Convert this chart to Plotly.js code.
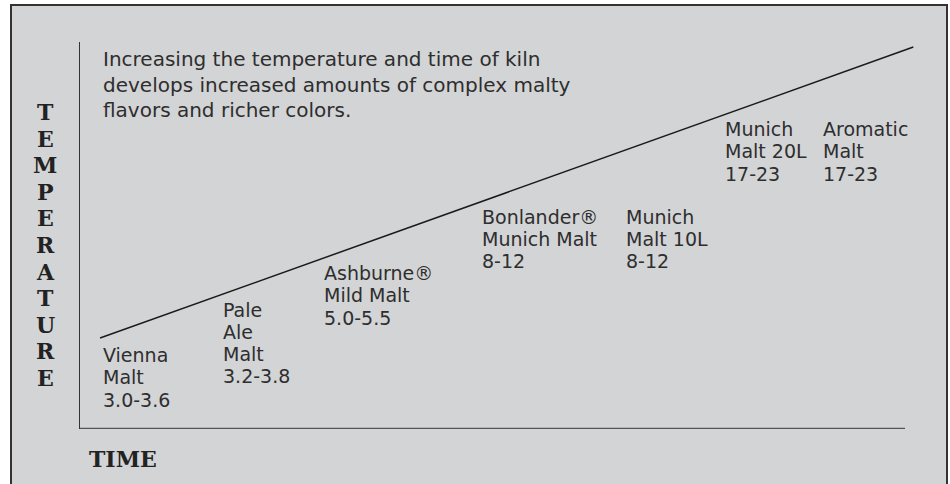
<!DOCTYPE html>
<html>
<head>
<meta charset="utf-8">
<script src="https://cdn.plot.ly/plotly-3.0.1.min.js"></script>
<style>html,body{margin:0;padding:0;background:#fff;}#chart{width:950px;height:484px;}</style>
</head>
<body>
<div id="chart"></div>
<script>
// ---- data ----
const kilnTime = [0.24, 9.98];
const kilnTemp = [2.35, 9.87];
const maltNames = [
  ["Vienna", "Malt"],
  ["Pale", "Ale", "Malt"],
  ["Ashburne®", "Mild Malt"],
  ["Bonlander®", "Munich Malt"],
  ["Munich", "Malt 10L"],
  ["Munich", "Malt 20L"],
  ["Aromatic", "Malt"]
];
const maltColorRanges = ["3.0-3.6", "3.2-3.8", "5.0-5.5", "8-12", "8-12", "17-23", "17-23"];
const noteLines = [
  "Increasing the temperature and time of kiln",
  "develops increased amounts of complex malty",
  "flavors and richer colors."
];
const yTitle = "TEMPERATURE";
const xTitle = "TIME";

// ---- layout constants (pixels) ----
const W = 950, H = 484;
const M = {l: 80, r: 35, t: 42, b: 55};
const PW = W - M.l - M.r, PH = H - M.t - M.b;
const px = x => (x - M.l) / PW;          // page px -> paper x
const py = y => (H - M.b - y) / PH;      // page px -> paper y
// [left x, first baseline, last baseline]
const labelPos = [[103, 363, 405], [223, 317, 382], [324, 281, 323], [482, 223, 268], [626, 223, 268], [725, 137, 179], [823, 137, 179]];
const labelStep = 22.2;
const labelFont = {family: "DejaVu Sans", size: 19, color: "#2e2e2e"};
const noteFont = {family: "DejaVu Sans", size: 20, color: "#2e2e2e"};
const serifFont = {family: "DejaVu Serif", size: 22, color: "#222"};

const annotations = [];
function addLine(text, xLeft, baseline, font) {
  annotations.push({
    text: text, xref: "paper", yref: "paper",
    x: px(xLeft - 1), y: py(baseline - font.size * 0.35),
    xanchor: "left", yanchor: "middle", showarrow: false,
    font: font, align: "left", borderpad: 0
  });
}
maltNames.forEach((lines, i) => {
  const all = lines.concat([maltColorRanges[i]]);
  const mid = (labelPos[i][1] + labelPos[i][2]) / 2;
  const first = mid - (all.length - 1) / 2 * labelStep;
  all.forEach((t, j) => addLine(t, labelPos[i][0], first + j * labelStep, labelFont));
});
noteLines.forEach((t, j) => addLine(t, 103, 66 + j * 25.5, noteFont));

// vertical TEMPERATURE title
yTitle.split("").forEach((ch, j) => {
  annotations.push({
    text: "<b>" + ch + "</b>", xref: "paper", yref: "paper",
    x: px(45), y: py(112 + j * 26.6),
    xanchor: "center", yanchor: "middle", showarrow: false, font: serifFont,
    borderpad: 0
  });
});
annotations.push({
  text: "<b>" + xTitle + "</b>", xref: "paper", yref: "paper",
  x: px(87), y: py(459), xanchor: "left", yanchor: "middle",
  showarrow: false, font: serifFont
});

const shapes = [
  {type: "rect", xref: "paper", yref: "paper", x0: px(11), x1: px(947), y0: py(5), y1: py(500),
   fillcolor: "#d3d4d6", line: {color: "#333", width: 2}, layer: "below"},
  {type: "line", xref: "x", yref: "y", x0: 0, x1: 9.88, y0: 0, y1: 0,
   line: {color: "#555", width: 2.5}}
];

const trace = {
  x: kilnTime, y: kilnTemp, mode: "lines", type: "scatter",
  line: {color: "#1a1a1a", width: 1.5}, hoverinfo: "skip"
};

const layout = {
  width: W, height: H, margin: M,
  paper_bgcolor: "#ffffff", plot_bgcolor: "rgba(0,0,0,0)",
  showlegend: false,
  xaxis: {range: [0, 10], showgrid: false, zeroline: false, showticklabels: false, ticks: "", showline: false, fixedrange: true},
  yaxis: {range: [0, 10], showgrid: false, zeroline: false, showticklabels: false, ticks: "", showline: true, linecolor: "#333", linewidth: 1.5, fixedrange: true},
  annotations: annotations, shapes: shapes
};
Plotly.newPlot("chart", [trace], layout, {displayModeBar: false, staticPlot: true});
</script>
</body>
</html>
